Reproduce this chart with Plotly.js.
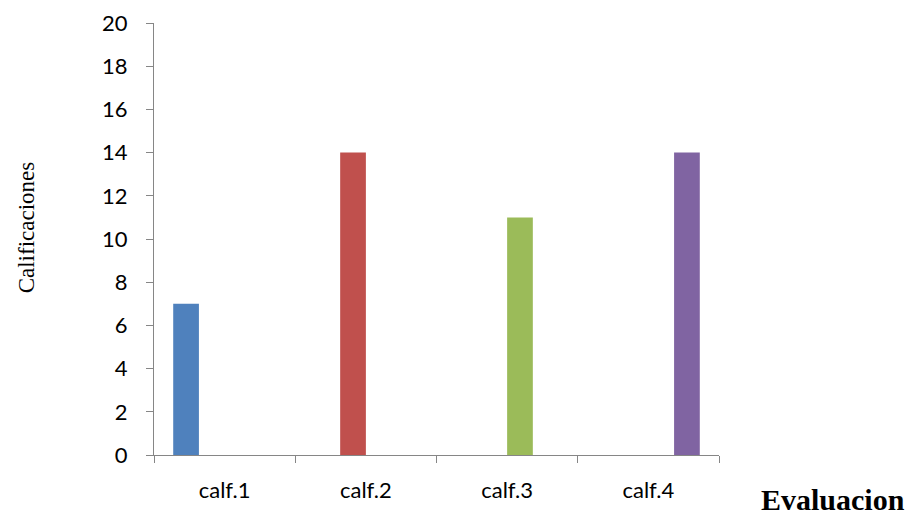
<!DOCTYPE html>
<html>
<head>
<meta charset="utf-8">
<script src="https://cdn.plot.ly/plotly-3.0.1.min.js"></script>
<style>
  html, body { margin: 0; padding: 0; background: #ffffff; }
  #chart { width: 915px; height: 517px; }
</style>
</head>
<body>
<div id="chart"></div>
<script>
// Scores per evaluation
const categories = ['calf.1', 'calf.2', 'calf.3', 'calf.4'];
const scores = [7, 14, 11, 14];
const barColors = ['#4F81BD', '#C0504D', '#9BBB59', '#8064A2'];
const yTickValues = [0, 2, 4, 6, 8, 10, 12, 14, 16, 18, 20];

// One series per evaluation; each holds a value only at its own category,
// and its own offset group gives it a fixed slot inside every category.
const traces = categories.map((cat, i) => ({
  type: 'bar',
  name: cat,
  x: categories,
  y: categories.map((c, j) => (j === i ? scores[i] : null)),
  offsetgroup: String(i),
  marker: { color: barColors[i] },
  hoverinfo: 'x+y'
}));

const axisGray = '#868686';
const tickFont = { family: 'Lato, "Open Sans", sans-serif', size: 22, color: '#000000' };

const layout = {
  width: 915,
  height: 517,
  margin: { l: 154, r: 196, t: 23, b: 62 },
  paper_bgcolor: '#ffffff',
  plot_bgcolor: '#ffffff',
  showlegend: false,
  barmode: 'group',
  bargap: 0.272,
  bargroupgap: 0,
  xaxis: {
    type: 'category',
    categoryorder: 'array',
    categoryarray: categories,
    range: [-0.5, 3.5],
    showgrid: false,
    zeroline: false,
    showline: true,
    linecolor: axisGray,
    linewidth: 1,
    ticks: 'outside',
    tickson: 'boundaries',
    ticklen: 7,
    tickcolor: axisGray,
    tickfont: tickFont,
    ticklabelstandoff: 16
  },
  yaxis: {
    range: [0, 20],
    tickvals: yTickValues,
    showgrid: false,
    zeroline: false,
    showline: true,
    linecolor: axisGray,
    linewidth: 1,
    ticks: 'outside',
    ticklen: 7,
    tickcolor: axisGray,
    tickfont: tickFont,
    ticklabelstandoff: 14
  },
  annotations: [
    {
      text: 'Calificaciones',
      xref: 'paper', yref: 'paper',
      x: -0.2265, y: 0.527,
      xanchor: 'center', yanchor: 'middle',
      textangle: -90,
      showarrow: false,
      font: { family: '"Liberation Serif", "Times New Roman", serif', size: 23, color: '#000000' }
    },
    {
      text: '<b>Evaluacion</b>',
      xref: 'paper', yref: 'paper',
      x: 1.2018, y: -0.1425,
      xanchor: 'center', yanchor: 'bottom',
      borderpad: 0,
      showarrow: false,
      font: { family: '"Liberation Serif", "Times New Roman", serif', size: 30, color: '#000000' }
    }
  ]
};

Plotly.newPlot('chart', traces, layout, { displayModeBar: false, staticPlot: true });
</script>
</body>
</html>
